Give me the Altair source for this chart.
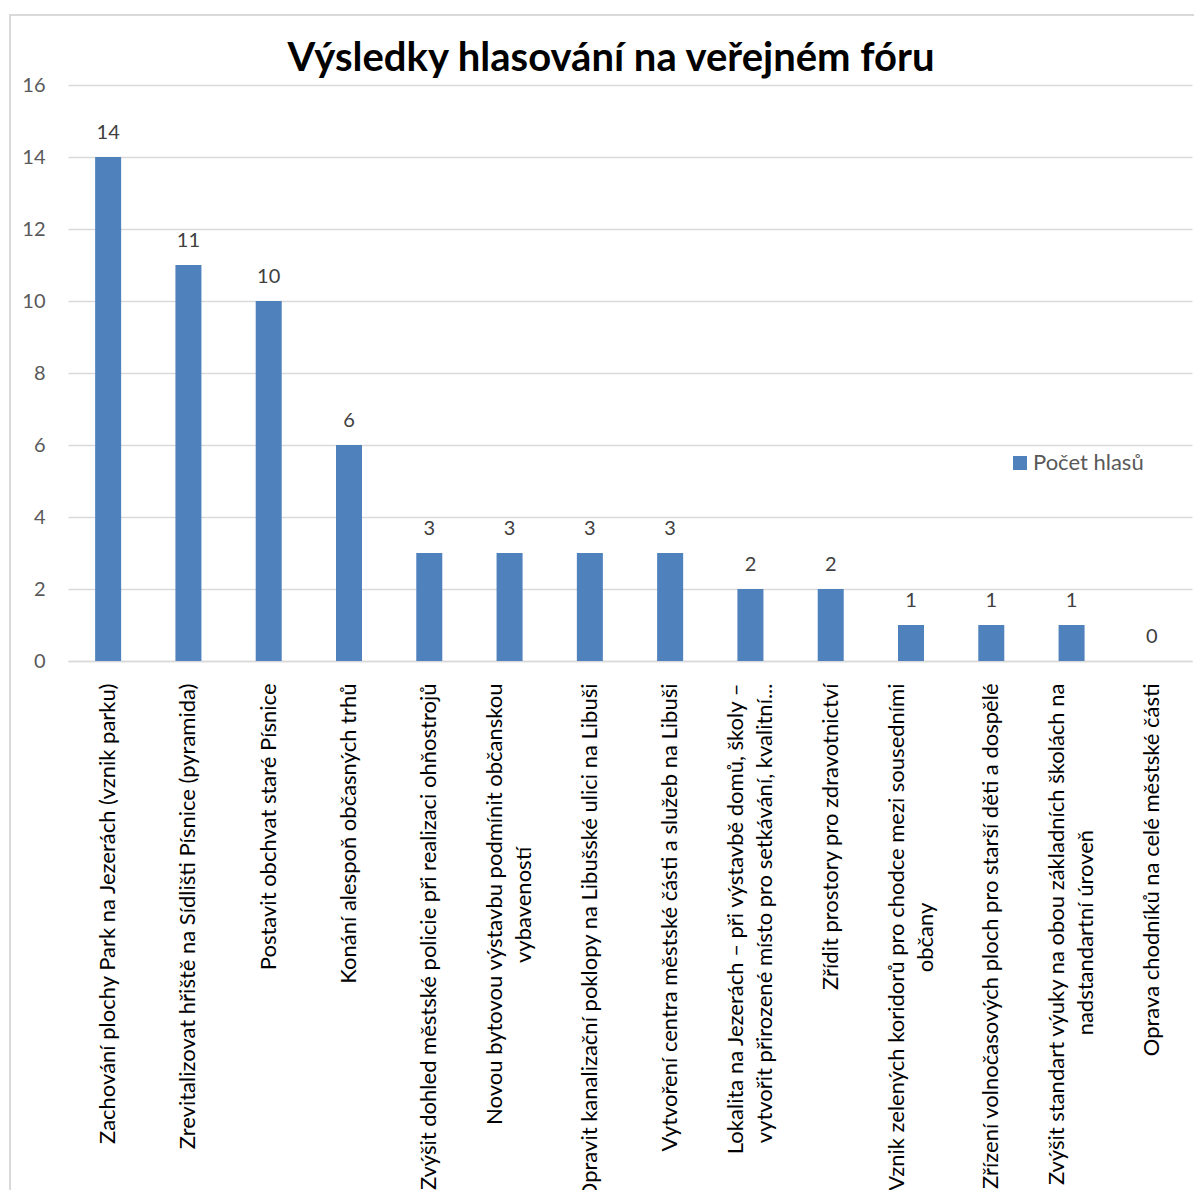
import altair as alt
import pandas as pd

# ---- data ----
categories = [
    "Zachování plochy Park na Jezerách (vznik parku)",
    "Zrevitalizovat hřiště na Sídlišti Písnice (pyramida)",
    "Postavit obchvat staré Písnice",
    "Konání alespoň občasných trhů",
    "Zvýšit dohled městské policie při realizaci ohňostrojů",
    "Novou bytovou výstavbu podmínit občanskou\nvybaveností",
    "Opravit kanalizační poklopy na Libušské ulici na Libuši",
    "Vytvoření centra městské části a služeb na Libuši",
    "Lokalita na Jezerách – při výstavbě domů, školy –\nvytvořit přirozené místo pro setkávání, kvalitní...",
    "Zřídit  prostory pro zdravotnictví",
    "Vznik zelených koridorů pro chodce mezi sousedními\nobčany",
    "Zřízení volnočasových ploch pro starší děti a dospělé",
    "Zvýšit standart výuky na obou základních školách na\nnadstandartní úroveň",
    "Oprava chodníků na celé městské části",
]
votes = [14, 11, 10, 6, 3, 3, 3, 3, 2, 2, 1, 1, 1, 0]
series_name = "Počet hlasů"
title_text = "Výsledky hlasování na veřejném fóru"
y_ticks = [0, 2, 4, 6, 8, 10, 12, 14, 16]

# second lines of wrapped labels are centred under the first line (Excel style):
# number of non-breaking spaces appended so the right-aligned line sits centred
line2_center_pad = [0, 0, 0, 0, 0, 29, 0, 0, 0, 0, 39, 0, 26, 0]

NBSP = "\u00a0"
ZWSP = "\u200b"  # keeps the padding from being trimmed
labels = []
for cat, pad in zip(categories, line2_center_pad):
    parts = cat.split("\n")
    if len(parts) > 1 and pad > 0:
        parts[1] = parts[1] + NBSP * pad + ZWSP
    labels.append("\n".join(parts))

df = pd.DataFrame({"label": labels, "votes": votes, "serie": series_name})

FONT = "Lato"
GRID = "#d9d9d9"
LINE_H = 29

x_enc = alt.X(
    "label:N",
    sort=None,
    title=None,
    scale=alt.Scale(paddingInner=0.676, paddingOuter=0.338),
    axis=alt.Axis(
        labelAngle=-90,
        labelAlign="right",
        labelBaseline="middle",
        labelExpr="split(datum.label, '\\n')",
        labelLimit=3000,
        labelPadding=22,
        labelOffset={
            "condition": {"test": "indexof(datum.value, '\\n') >= 0", "value": -LINE_H / 2},
            "value": 0,
        },
        labelFont=FONT,
        labelFontSize=22,
        labelColor="#000000",
        labelLineHeight=LINE_H,
        ticks=False,
        domainColor=GRID,
        domainWidth=1.5,
        grid=False,
    ),
)
y_enc = alt.Y(
    "votes:Q",
    title=None,
    scale=alt.Scale(domain=[0, 16], nice=False),
    axis=alt.Axis(
        values=y_ticks,
        domain=False,
        ticks=False,
        grid=True,
        gridColor=GRID,
        gridWidth=1.5,
        labelPadding=23,
        labelFont=FONT,
        labelFontSize=20,
        labelColor="#595959",
    ),
)

frame = alt.Chart(alt.Data(values=[{"k": 1}])).mark_rect(
    fillOpacity=0, stroke=GRID, strokeWidth=2
).encode(
    x=alt.value(-58), x2=alt.value(1300), y=alt.value(-70), y2=alt.value(1300)
)

bars = alt.Chart(df).mark_bar().encode(
    x=x_enc,
    y=y_enc,
    color=alt.Color(
        "serie:N",
        scale=alt.Scale(domain=[series_name], range=["#4f81bd"]),
        legend=alt.Legend(
            title=None,
            orient="none",
            legendX=941,
            legendY=367,
            symbolType="square",
            symbolSize=196,
            symbolStrokeWidth=0,
            labelFont=FONT,
            labelFontSize=22,
            labelColor="#595959",
            labelOffset=2,
            padding=0,
        ),
    ),
)

text = alt.Chart(df).mark_text(
    dy=-18, baseline="alphabetic", font=FONT, fontSize=20, color="#404040"
).encode(x=x_enc, y=y_enc, text="votes:Q")

chart = alt.layer(frame, bars, text).properties(
    width=1124,
    height=576,
    padding={"left": 60, "top": 77, "right": 2, "bottom": 529},
    autosize=alt.AutoSizeParams(type="none"),
    title=alt.Title(
        title_text,
        font=FONT,
        fontSize=40,
        fontWeight="bold",
        color="#000000",
        anchor="middle",
        frame="group",
        baseline="alphabetic",
        dx=-19,
        dy=101,
        offset=4,
    ),
).configure_view(strokeWidth=0)

chart.save("out.html", embed_options={"renderer": "svg", "actions": False})
